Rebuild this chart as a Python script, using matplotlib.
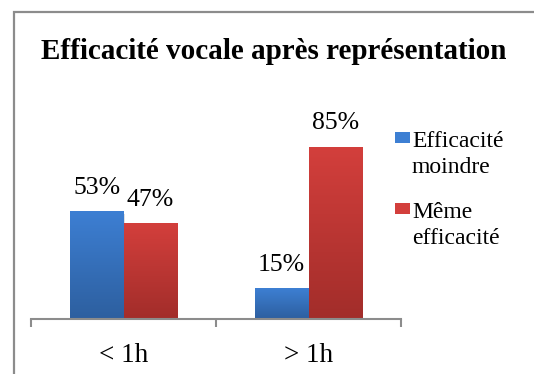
import matplotlib.pyplot as plt
import numpy as np
from matplotlib.colors import LinearSegmentedColormap
from matplotlib.lines import Line2D
from matplotlib.patches import Rectangle

plt.rcParams["font.family"] = ["Liberation Serif", "DejaVu Serif"]

TITLE = "Efficacité vocale après représentation"
CATEGORIES = ["< 1h", "> 1h"]
SERIES = ["Efficacité\nmoindre", "Même\nefficacité"]
MOINDRE = [53, 15]
MEME = [47, 85]

# top / bottom colours of the bar gradients
GRADIENTS = [("#3d7fd3", "#2d5f9f"), ("#d33f3c", "#a22d2a")]
GRID_GREY = "#8c8c8c"

W, H = 534, 374
fig = plt.figure(figsize=(W / 100, H / 100), dpi=100)

# chart frame: only its left and top edges fall inside the image
fx, fy = 14 / W, 1 - 12 / H
fig.add_artist(Line2D([fx, fx, 1.0], [0.0, fy, fy], transform=fig.transFigure,
                      color=GRID_GREY, linewidth=1.6, solid_joinstyle="miter"))

fig.text(274 / W, 1 - 59 / H, TITLE, ha="center", va="baseline",
         fontsize=21, fontweight="bold")

ax = fig.add_axes([31 / W, 55 / H, 370 / W, 182 / H])
x = np.arange(len(CATEGORIES))
width = 0.29

for k, (vals, (top, bot)) in enumerate(zip([MOINDRE, MEME], GRADIENTS)):
    offset = (k - 0.5) * width
    bars = ax.bar(x + offset, vals, width, facecolor="none", edgecolor="none")
    cmap = LinearSegmentedColormap.from_list(f"g{k}", [bot, top])
    grad = np.linspace(0, 1, 256).reshape(-1, 1)
    for bar, v in zip(bars, vals):
        x0 = bar.get_x()
        # soft drop shadow
        ax.add_patch(Rectangle((x0 + 0.006, -1.2), width, v, facecolor="#000000",
                               alpha=0.12, edgecolor="none", zorder=1))
        ax.imshow(grad, extent=[x0, x0 + width, 0, v], origin="lower",
                  cmap=cmap, aspect="auto", zorder=2, interpolation="bicubic")
        ax.annotate(f"{v}%", (x0 + width / 2, v), xytext=(0, 13),
                    textcoords="offset points", ha="center", va="baseline",
                    fontsize=18.5)

ax.set_xlim(-0.5, 1.5)
ax.set_ylim(0, 90)
for side in ["top", "right", "left"]:
    ax.spines[side].set_visible(False)
ax.spines["bottom"].set_color(GRID_GREY)
ax.spines["bottom"].set_linewidth(1.5)
ax.spines["bottom"].set_zorder(3)
ax.set_yticks([])

ax.set_xticks([-0.5, 0.5, 1.5])
ax.set_xticklabels([])
ax.tick_params(axis="x", which="major", length=5.5, width=1.5, color=GRID_GREY,
               direction="out")
ax.set_xticks(x, minor=True)
ax.set_xticklabels(CATEGORIES, minor=True, fontsize=19.5)
ax.tick_params(axis="x", which="minor", length=0, pad=17)

# legend drawn as markers + wrapped labels
for i, (label, (top, bot)) in enumerate(zip(SERIES, GRADIENTS)):
    y_top = 132 + i * 71
    fig.patches.append(Rectangle((395 / W, 1 - (y_top + 11) / H), 15 / W, 11 / H,
                                 transform=fig.transFigure, facecolor=top,
                                 edgecolor="none"))
    for j, line in enumerate(label.split("\n")):
        fig.text(412 / W, 1 - (y_top + 15 + j * 26) / H, line,
                 ha="left", va="baseline", fontsize=17)

fig.savefig("out.png", dpi=100, facecolor="white")
